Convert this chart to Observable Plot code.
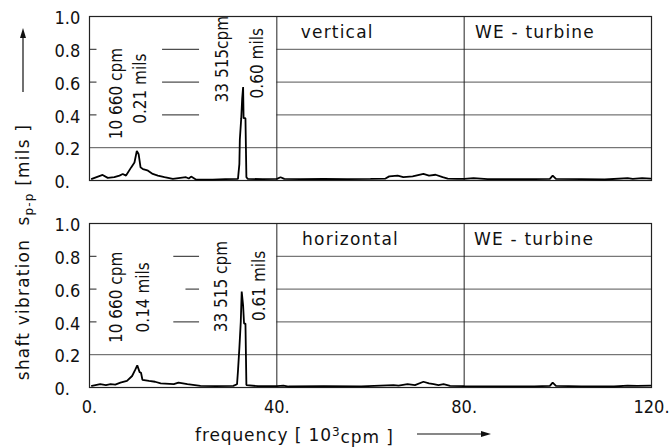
<!DOCTYPE html>
<html>
<head>
<meta charset="utf-8">
<script src="https://cdn.jsdelivr.net/npm/d3@7"></script>
<script src="https://cdn.jsdelivr.net/npm/@observablehq/plot@0.6"></script>
<style>
  body { margin: 0; background: #fff; }
  svg text { fill: #111; }
  .cond { font-family: 'DejaVu Sans Condensed', 'DejaVu Sans', sans-serif; font-stretch: condensed; }
  .word { letter-spacing: 1.2px; }
</style>
</head>
<body>
<div id="chart"></div>
<script>
// ---- data ----
const panels = ["vertical", "horizontal"];

// vertical measurement (top panel): frequency [10^3 cpm], amplitude [mils]
const freqV = [0.5, 1.8, 2.8, 3.9, 5.3, 6.4, 7.1, 7.8, 8.9, 9.6, 10.1, 10.5, 10.9, 11.4, 12.0, 12.5, 13.5, 14.6, 16.0, 17.8, 19.0, 20.6, 21.2, 21.7, 22.8, 26.3, 29.0, 31.7, 32.0, 32.1, 32.4, 32.6, 32.8, 32.9, 33.3, 33.5, 33.8, 37.0, 40.0, 40.8, 41.6, 45.0, 50.0, 55.0, 60.0, 63.2, 64.0, 65.8, 67.0, 69.0, 71.3, 72.5, 73.9, 75.4, 76.5, 78.6, 80.0, 82.0, 85.0, 90.0, 95.0, 98.3, 98.9, 99.6, 105.0, 110.0, 114.9, 116.0, 118.0, 119.8];
const ampV = [0.01, 0.024, 0.034, 0.016, 0.02, 0.03, 0.04, 0.03, 0.08, 0.11, 0.18, 0.16, 0.08, 0.07, 0.065, 0.06, 0.04, 0.03, 0.02, 0.01, 0.015, 0.02, 0.012, 0.024, 0.005, 0.005, 0.008, 0.01, 0.1, 0.25, 0.38, 0.5, 0.57, 0.38, 0.38, 0.02, 0.01, 0.008, 0.01, 0.02, 0.01, 0.008, 0.01, 0.008, 0.01, 0.012, 0.025, 0.03, 0.02, 0.025, 0.04, 0.03, 0.035, 0.02, 0.012, 0.01, 0.01, 0.015, 0.008, 0.008, 0.008, 0.01, 0.03, 0.01, 0.008, 0.006, 0.015, 0.01, 0.015, 0.012];

// horizontal measurement (bottom panel)
const freqH = [0.5, 2.3, 3.5, 4.5, 5.5, 6.6, 8.0, 9.1, 9.8, 10.2, 10.7, 11.0, 11.3, 12.7, 14.0, 15.2, 18.0, 19.0, 20.9, 23.7, 27.0, 30.7, 31.5, 31.7, 32.0, 32.3, 32.5, 32.8, 33.0, 33.3, 33.5, 36.0, 40.0, 41.4, 42.5, 50.0, 58.0, 64.9, 66.0, 67.9, 69.5, 71.3, 72.5, 73.5, 74.5, 75.6, 77.0, 80.0, 88.0, 95.0, 98.3, 98.9, 99.6, 105.0, 112.0, 114.9, 117.0, 119.8];
const ampH = [0.01, 0.02, 0.015, 0.02, 0.018, 0.03, 0.04, 0.07, 0.11, 0.135, 0.094, 0.09, 0.047, 0.04, 0.035, 0.025, 0.02, 0.03, 0.02, 0.01, 0.008, 0.01, 0.02, 0.1, 0.24, 0.4, 0.585, 0.5, 0.39, 0.39, 0.015, 0.008, 0.008, 0.012, 0.006, 0.008, 0.007, 0.015, 0.012, 0.02, 0.015, 0.035, 0.025, 0.02, 0.015, 0.02, 0.01, 0.008, 0.007, 0.007, 0.01, 0.03, 0.01, 0.007, 0.006, 0.012, 0.01, 0.012];

const xTicks = [0, 40, 80, 120];
const xTickLabels = ["0.", "40.", "80.", "120."];
const yTicks = [0, 0.2, 0.4, 0.6, 0.8, 1.0];
const yTickLabels = ["0.", "0.2", "0.4", "0.6", "0.8", "1.0"];

const dividers = [40, 80];
const fullGrid = [0.2];
const rightGrid = [0.4, 0.6, 0.8];

const gridLeftPanel = ["vertical", "vertical", "vertical", "horizontal", "horizontal", "horizontal"];
const gridLeftY = [0.8, 0.6, 0.4, 0.8, 0.6, 0.4];
const gridLeftX1 = [15.6, 15.6, 15.6, 18.0, 20.6, 18.0];
const gridLeftX2 = [23.5, 23.5, 23.5, 23.5, 23.5, 23.5];

const annoPanel = ["vertical", "vertical", "vertical", "vertical", "horizontal", "horizontal", "horizontal", "horizontal"];
const annoText = ["10 660 cpm", "0.21 mils", "33 515cpm", "0.60 mils", "10 660 cpm", "0.14 mils", "33 515 cpm", "0.61 mils"];
const annoX = [5.8, 10.9, 28.4, 35.9, 5.8, 11.5, 28.2, 36.4];
const annoY = [0.53, 0.56, 0.74, 0.715, 0.55, 0.55, 0.615, 0.62];

const titlePanel = ["vertical", "vertical", "horizontal", "horizontal"];
const titleText = ["vertical", "WE - turbine", "horizontal", "WE - turbine"];
const titleX = [45.1, 82.3, 45.4, 82.1];
const titleY = [0.9, 0.9, 0.9, 0.9];

// ---- tables built from the arrays ----
const series = [
  ...freqV.map((f, i) => ({panel: "vertical", f, a: ampV[i]})),
  ...freqH.map((f, i) => ({panel: "horizontal", f, a: ampH[i]}))
];
const gridLeft = gridLeftY.map((y, i) => ({panel: gridLeftPanel[i], y, x1: gridLeftX1[i], x2: gridLeftX2[i]}));
const annos = annoText.map((t, i) => ({panel: annoPanel[i], t, x: annoX[i], y: annoY[i]}));
const titles = titleText.map((t, i) => ({panel: titlePanel[i], t, x: titleX[i], y: titleY[i]}));

const gridColor = "#555";

const chart = Plot.plot({
  width: 672,
  height: 448,
  marginLeft: 89,
  marginRight: 21,
  marginTop: 15,
  marginBottom: 61,
  style: {fontFamily: "'DejaVu Sans', sans-serif", fontSize: "17px", background: "#fff", color: "#111"},
  x: {domain: [0, 120]},
  y: {domain: [0, 1]},
  fy: {domain: panels, paddingInner: 0.21, paddingOuter: 0, axis: null},
  marks: [
    Plot.ruleY(fullGrid, {stroke: gridColor, strokeWidth: 1}),
    Plot.ruleY(rightGrid, {x1: 40, x2: 120, stroke: gridColor, strokeWidth: 1}),
    Plot.ruleY(gridLeft, {y: "y", x1: "x1", x2: "x2", fy: "panel", stroke: "#222", strokeWidth: 1}),
    Plot.ruleY(rightGrid, {x1: 0, x2: 1.6, stroke: "#222", strokeWidth: 1}),
    Plot.ruleX(dividers, {stroke: "#222", strokeWidth: 1}),
    Plot.frame({stroke: "#222", strokeWidth: 1.2}),
    Plot.line(series, {x: "f", y: "a", fy: "panel", stroke: "#000", strokeWidth: 1.8, strokeLinejoin: "miter"}),
    Plot.text(annos, {x: "x", y: "y", fy: "panel", text: "t", rotate: -90, textAnchor: "middle", lineAnchor: "middle", fontSize: 17, className: "cond"}),
    Plot.text(titles, {x: "x", y: "y", fy: "panel", text: "t", textAnchor: "start", lineAnchor: "middle", fontSize: 17, className: "word"}),
    Plot.axisY(yTicks, {tickSize: 0, tickPadding: 35, textAnchor: "start", dy: 2, tickFormat: (d) => yTickLabels[yTicks.indexOf(d)], label: null, fontSize: 18, className: "cond"}),
    Plot.axisX(xTicks, {tickSize: 0, tickPadding: 13, tickFormat: (d) => xTickLabels[xTicks.indexOf(d)], label: null, fontSize: 18, className: "cond"})
  ]
});

document.getElementById("chart").appendChild(chart);

// global axis titles and arrows
const svg = d3.select(chart);
const yl = svg.append("text")
  .attr("class", "word")
  .attr("transform", "translate(23,252) rotate(-90)")
  .attr("text-anchor", "middle")
  .attr("dy", "0.35em")
  .style("font-size", "17px");
yl.append("tspan").text("shaft vibration  s");
yl.append("tspan").attr("dy", "0.3em").style("font-size", "12px").text("p-p");
yl.append("tspan").attr("dy", "-0.22em").text(" [mils ]");

svg.append("line").attr("x1", 23).attr("y1", 92).attr("x2", 23).attr("y2", 36).attr("stroke", "#111").attr("stroke-width", 1.2);
svg.append("path").attr("d", "M23,28 L20,38 L26,38 Z").attr("fill", "#111");

const xl = svg.append("text")
  .attr("class", "word")
  .attr("x", 195).attr("y", 435)
  .attr("dy", "0.35em")
  .attr("text-anchor", "start")
  .style("font-size", "17px")
  .style("letter-spacing", "0.9px");
xl.append("tspan").text("frequency [ 10");
xl.append("tspan").attr("dy", "-0.45em").style("font-size", "12px").text("3");
xl.append("tspan").attr("dy", "0.45em").text("cpm ]");

svg.append("line").attr("x1", 417).attr("y1", 434).attr("x2", 482).attr("y2", 434).attr("stroke", "#111").attr("stroke-width", 1.2);
svg.append("path").attr("d", "M491,434 L481,431 L481,437 Z").attr("fill", "#111");
</script>
</body>
</html>
